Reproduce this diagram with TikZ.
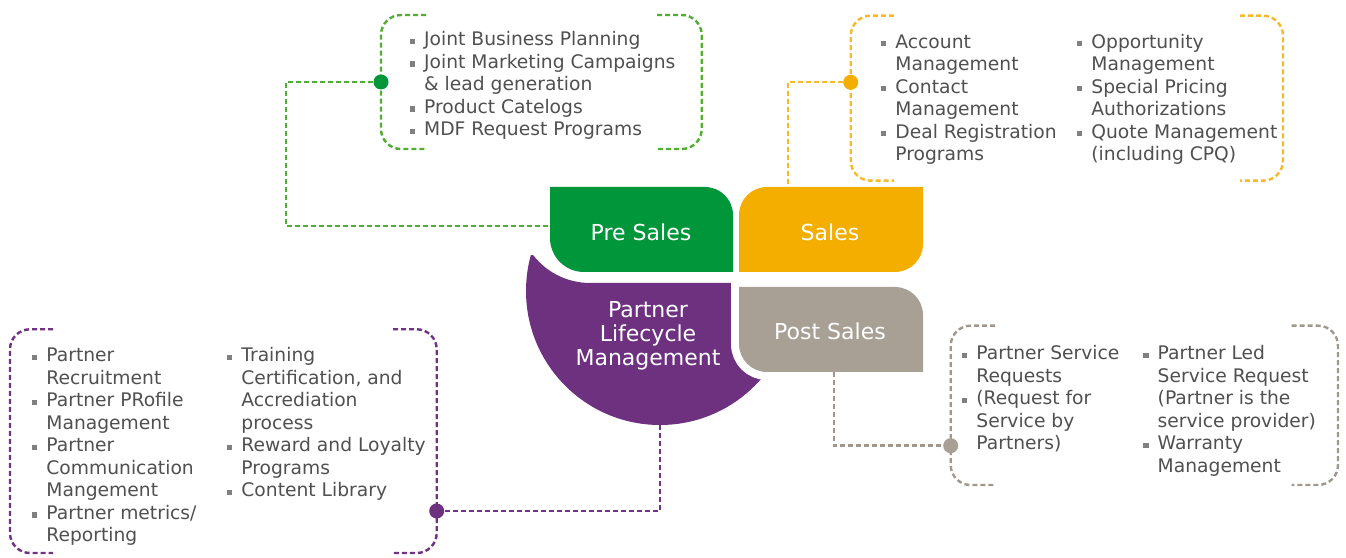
\documentclass[tikz,border=0pt]{standalone}
\usepackage{fontspec}
\setmainfont{DejaVu Sans}
\usetikzlibrary{positioning}

\definecolor{presgreen}{RGB}{0,150,57}
\definecolor{presdashc}{RGB}{82,174,50}
\definecolor{salesyellow}{RGB}{243,174,0}
\definecolor{salesdashc}{RGB}{247,185,40}
\definecolor{plmpurple}{RGB}{109,49,128}
\definecolor{plmdashc}{RGB}{112,50,130}
\definecolor{pslgray}{RGB}{168,160,148}
\definecolor{psldashc}{RGB}{160,152,140}
\definecolor{textgray}{RGB}{80,80,80}
\definecolor{bulletgray}{RGB}{128,128,128}

\newcommand{\bulletsq}{\textcolor{bulletgray}{\rule[1.8pt]{5.5pt}{5.5pt}}}

\begin{document}
\begin{tikzpicture}[
    x=1pt, y=1pt,
    phaselabel/.style={text=white, font=\fontsize{22}{24}\selectfont, align=center, inner sep=0},
    itemlist/.style={anchor=base west, inner sep=0, text=textgray, font=\fontsize{18.7}{22.5}\selectfont},
    dashline/.style={line width=2.4pt, dash pattern=on 5pt off 3pt},
    bracket/.style={dashline, rounded corners=20pt},
    dot/.style={circle, minimum size=15pt, inner sep=0}
]
\useasboundingbox (0,0) rectangle (1346,557);
\fill[white] (0,0) rectangle (1346,557);

% Partner Lifecycle Management (purple)
\begin{scope}
    \clip (660,266) circle (134pt);
    \fill[plmpurple] (731,274) -- (590,274) arc[start angle=270, end angle=217.7, radius=72pt]
        -- (400,302) -- (400,100) -- (820,100) -- (820,274) -- cycle;
\end{scope}

% Pre Sales (green)
\fill[presgreen] (550,370) -- (705,370) arc[start angle=90, end angle=0, radius=28pt]
    -- (733,285) -- (584,285) arc[start angle=270, end angle=180, radius=34pt] -- cycle;

% Sales (yellow)
\fill[salesyellow] (739,285) -- (739,342) arc[start angle=180, end angle=90, radius=28pt]
    -- (923,370) -- (923,313) arc[start angle=0, end angle=-90, radius=28pt] -- cycle;

% Post Sales (gray)
\path[fill=pslgray, preaction={draw=white, line width=16pt}]
    (739,270) -- (895,270) arc[start angle=90, end angle=0, radius=28pt]
    -- (923,185) -- (767,185) arc[start angle=270, end angle=180, radius=28pt] -- cycle;

% Labels
\node[phaselabel] (presales) at (641,325) {Pre Sales};
\node[phaselabel] (sales) at (830,325) {Sales};
\node[phaselabel] (postsales) at (830,226) {Post Sales};
\node[phaselabel] (plm) at (648,221) {Partner\\Lifecycle\\Management};

% Connector end points
\coordinate (presalesW) at (550,331);
\coordinate (salesN) at (787.7,370);
\coordinate (plmS) at (660,132);
\coordinate (postsalesS) at (834,185);

% Brackets
\draw[bracket, presdashc] (426,542) -- (381,542) -- (381,408) -- (426,408);
\draw[bracket, presdashc] (657,542) -- (701.7,542) -- (701.7,408) -- (657,408);
\draw[bracket, salesdashc] (894,541.3) -- (850.7,541.3) -- (850.7,376.3) -- (894,376.3);
\draw[bracket, salesdashc] (1240,541.3) -- (1283,541.3) -- (1283,376.3) -- (1240,376.3);
\draw[bracket, plmdashc] (53,227.7) -- (10,227.7) -- (10,4) -- (53,4);
\draw[bracket, plmdashc] (393,227.7) -- (436.7,227.7) -- (436.7,4) -- (393,4);
\draw[bracket, psldashc] (995,231.3) -- (950.7,231.3) -- (950.7,72) -- (995,72);
\draw[bracket, psldashc] (1291.7,231.3) -- (1338,231.3) -- (1338,72) -- (1291.7,72);

% Dots
\node[dot, fill=presgreen] (presdot) at (381,475) {};
\node[dot, fill=salesyellow] (salesdot) at (850.7,474.7) {};
\node[dot, fill=plmpurple] (plmdot) at (436.7,46) {};
\node[dot, fill=pslgray] (psldot) at (950.7,111.3) {};

% Connectors
\coordinate (preselbow) at (286,475);
\coordinate (saleselbow) at (787.7,474.7);
\coordinate (plmelbow) at (660,46);
\coordinate (pslelbow) at (834,111.3);
\draw[dashline, presdashc] (presdot) -- (preselbow) |- (presalesW);
\draw[dashline, salesdashc] (salesdot) -- (saleselbow) -- (salesN);
\draw[dashline, plmdashc] (plmS) -- (plmelbow) -- (plmdot);
\draw[dashline, psldashc] (postsalesS) -- (pslelbow) -- (psldot);

% Pre Sales items
\node[itemlist] (preslist) at (409.5,511) {\begin{tabular}[t]{@{}l@{\hspace{9pt}}l@{}}
\bulletsq & Joint Business Planning\\
\bulletsq & Joint Marketing Campaigns\\
 & \& lead generation\\
\bulletsq & Product Catelogs\\
\bulletsq & MDF Request Programs
\end{tabular}};

% Sales items
\node[itemlist] (saleslistA) at (880.7,508.7) {\begin{tabular}[t]{@{}l@{\hspace{9pt}}l@{}}
\bulletsq & Account\\
 & Management\\
\bulletsq & Contact\\
 & Management\\
\bulletsq & Deal Registration\\
 & Programs
\end{tabular}};
\node[itemlist] (saleslistB) at (1076.7,508.7) {\begin{tabular}[t]{@{}l@{\hspace{9pt}}l@{}}
\bulletsq & Opportunity\\
 & Management\\
\bulletsq & Special Pricing\\
 & Authorizations\\
\bulletsq & Quote Management\\
 & (including CPQ)
\end{tabular}};

% Partner Lifecycle Management items
\node[itemlist] (plmlistA) at (31.7,195) {\begin{tabular}[t]{@{}l@{\hspace{9pt}}l@{}}
\bulletsq & Partner\\
 & Recruitment\\
\bulletsq & Partner PRofile\\
 & Management\\
\bulletsq & Partner\\
 & Communication\\
 & Mangement\\
\bulletsq & Partner metrics/\\
 & Reporting
\end{tabular}};
\node[itemlist] (plmlistB) at (226.7,195) {\begin{tabular}[t]{@{}l@{\hspace{9pt}}l@{}}
\bulletsq & Training\\
 & Certification, and\\
 & Accrediation\\
 & process\\
\bulletsq & Reward and Loyalty\\
 & Programs\\
\bulletsq & Content Library
\end{tabular}};

% Post Sales items
\node[itemlist] (psllistA) at (961.7,197) {\begin{tabular}[t]{@{}l@{\hspace{9pt}}l@{}}
\bulletsq & Partner Service\\
 & Requests\\
\bulletsq & (Request for\\
 & Service by\\
 & Partners)
\end{tabular}};
\node[itemlist] (psllistB) at (1143,197) {\begin{tabular}[t]{@{}l@{\hspace{9pt}}l@{}}
\bulletsq & Partner Led\\
 & Service Request\\
 & (Partner is the\\
 & service provider)\\
\bulletsq & Warranty\\
 & Management
\end{tabular}};

\end{tikzpicture}
\end{document}
